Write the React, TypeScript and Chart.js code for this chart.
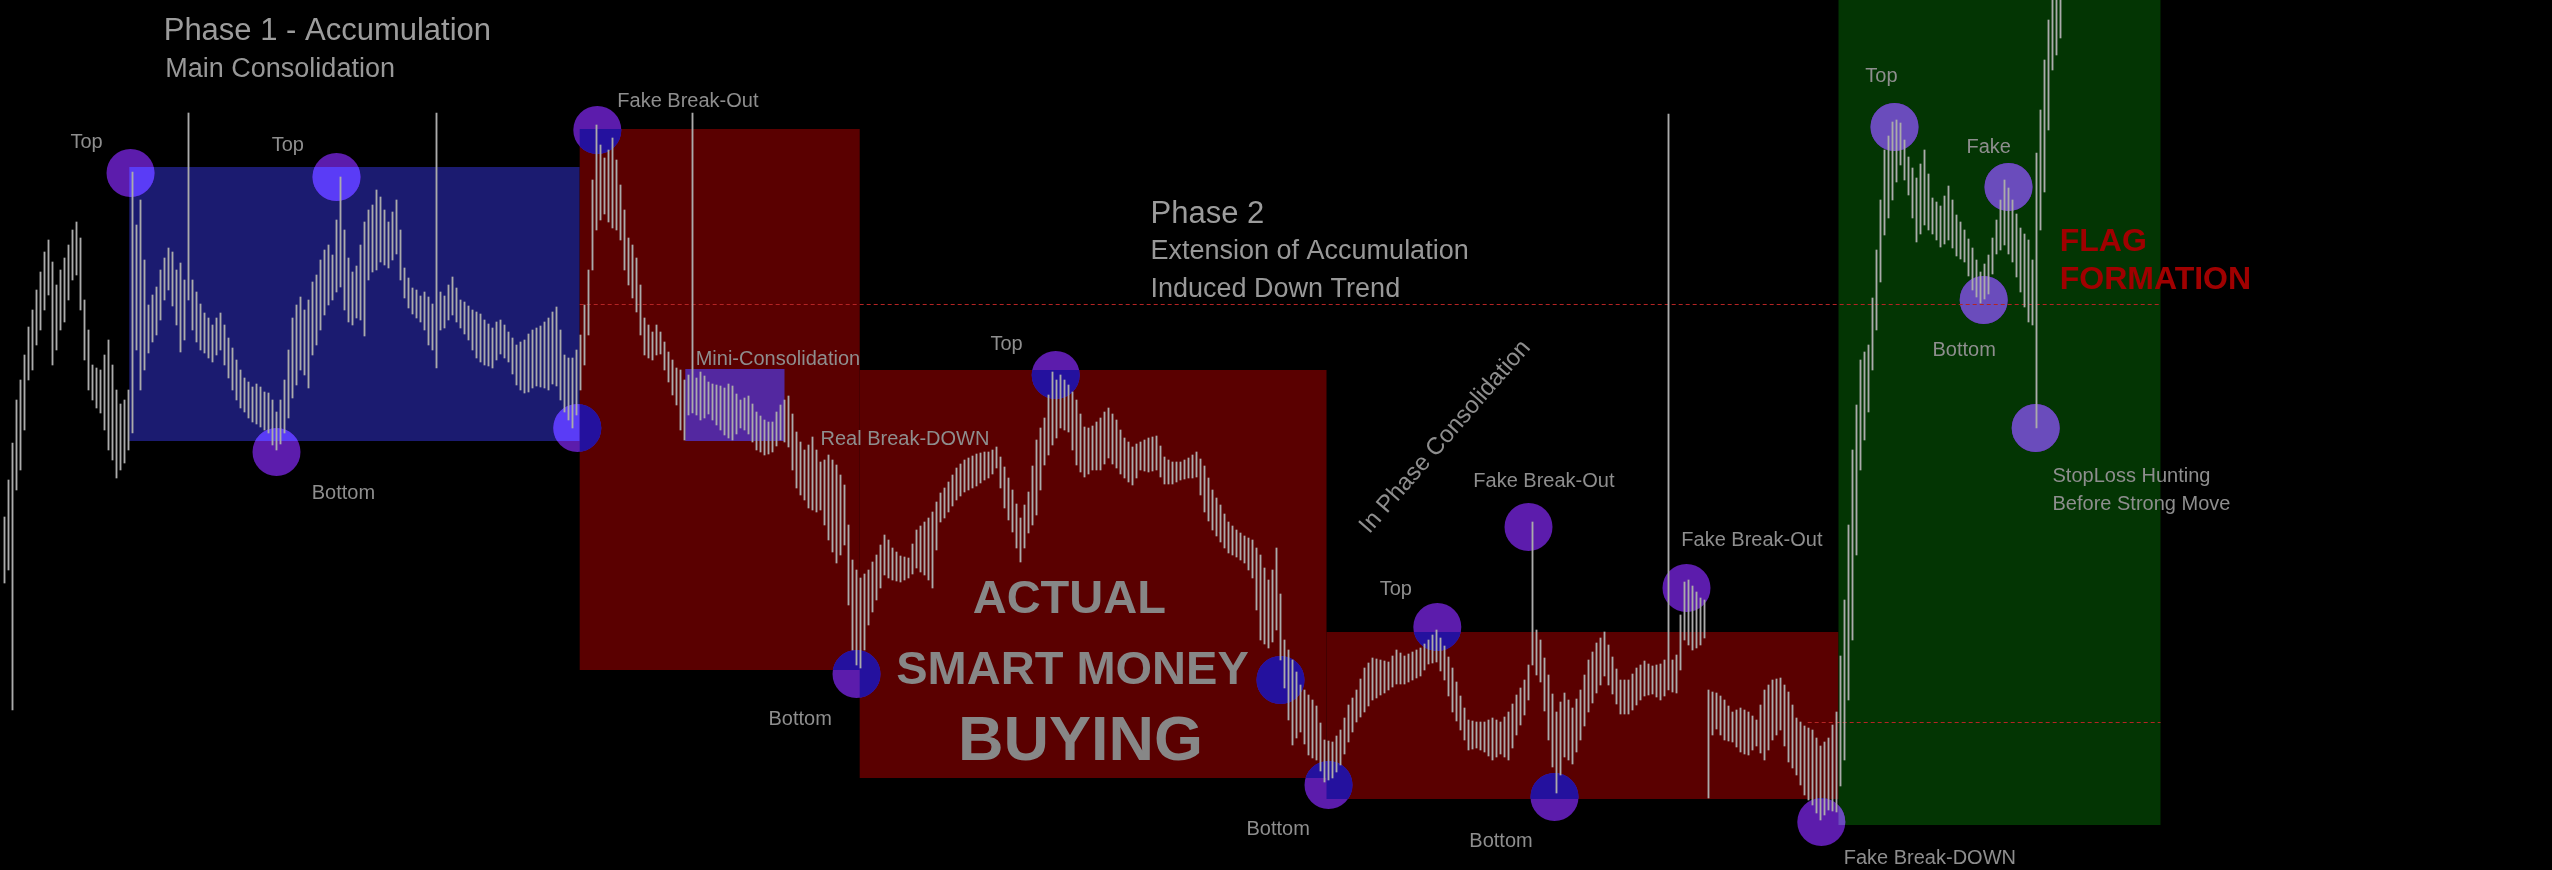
import React, { useEffect, useRef } from "react";
import { Chart, registerables } from "chart.js";

Chart.register(...registerables);

// ---- price bars (one bar per period), high / low in price points ----
const BAR_HIGH = [
  353, 390, 427, 470, 490, 515, 543, 560, 580, 598, 618, 630, 608, 585, 600, 612,
  625, 640, 648, 632, 570, 540, 505, 502, 500, 515, 530, 505, 480, 466, 470, 480,
  698, 645, 670, 610, 565, 575, 583, 600, 612, 622, 618, 600, 607, 590, 757, 590,
  578, 566, 557, 552, 545, 552, 557, 545, 532, 522, 510, 500, 492, 488, 483, 486,
  483, 478, 477, 470, 458, 470, 490, 520, 552, 565, 573, 560, 570, 588, 595, 610,
  620, 625, 615, 650, 693, 640, 612, 598, 604, 625, 648, 660, 665, 680, 673, 660,
  648, 658, 670, 640, 602, 592, 582, 580, 574, 578, 573, 566, 757, 578, 574, 585,
  593, 582, 570, 568, 564, 560, 558, 556, 550, 546, 542, 548, 550, 545, 538, 532,
  525, 528, 530, 536, 540, 542, 544, 548, 552, 558, 563, 540, 515, 512, 512, 520,
  535, 565, 600, 690, 745, 725, 712, 720, 732, 710, 685, 660, 632, 625, 612, 585,
  552, 545, 538, 545, 538, 528, 518, 510, 502, 500, 490, 495, 757, 492, 498, 494,
  488, 486, 485, 484, 482, 486, 484, 476, 470, 472, 474, 466, 458, 454, 450, 448,
  448, 458, 465, 470, 474, 456, 438, 428, 420, 425, 433, 420, 408, 410, 415, 410,
  405, 395, 385, 345, 310, 300, 292, 296, 300, 308, 315, 325, 335, 330, 322, 318,
  314, 313, 312, 326, 340, 344, 348, 352, 358, 368, 377, 382, 388, 395, 402, 406,
  410, 412, 414, 416, 417, 418, 418, 420, 423, 413, 403, 392, 380, 366, 352, 365,
  378, 404, 430, 442, 452, 475, 498, 490, 495, 490, 485, 478, 470, 456, 443, 442,
  444, 448, 452, 458, 462, 456, 450, 440, 432, 428, 423, 426, 428, 430, 432, 433,
  434, 424, 413, 410, 408, 408, 408, 410, 412, 415, 418, 411, 404, 392, 380, 372,
  365, 356, 348, 344, 340, 337, 334, 332, 330, 322, 315, 302, 290, 300, 322, 276,
  230, 220, 210, 198, 185, 180, 175, 170, 164, 147, 130, 129, 128, 134, 140, 152,
  165, 172, 180, 191, 202, 207, 212, 211, 210, 209, 208, 214, 220, 217, 214, 216,
  218, 220, 222, 226, 230, 235, 240, 232, 224, 213, 202, 188, 174, 162, 150, 149,
  148, 148, 148, 150, 152, 150, 148, 153, 158, 166, 175, 182, 190, 205, 348, 240,
  230, 212, 195, 176, 158, 168, 177, 170, 162, 171, 180, 195, 210, 218, 227, 232,
  238, 225, 213, 201, 190, 190, 190, 196, 202, 205, 209, 206, 204, 205, 206, 210,
  756, 210, 215, 255, 288, 290, 284, 278, 272, 270, 180, 178, 177, 174, 170, 164,
  158, 160, 162, 160, 158, 154, 150, 165, 180, 185, 190, 191, 192, 185, 178, 165,
  152, 148, 144, 142, 140, 132, 124, 128, 132, 145, 158, 214, 270, 345, 420, 465,
  510, 518, 525, 572, 620, 670, 720, 734, 748, 750, 747, 730, 713, 702, 692, 706,
  720, 696, 672, 668, 664, 674, 684, 670, 655, 648, 640, 631, 622, 610, 598, 606,
  615, 632, 650, 670, 690, 682, 670, 656, 642, 636, 630, 610, 717, 760, 810, 850,
  890, 910, 930,
];

const BAR_LOW = [
  287, 300, 160, 380, 400, 440, 490, 500, 525, 540, 560, 575, 505, 520, 540, 548,
  570, 590, 595, 560, 510, 480, 470, 462, 457, 440, 420, 410, 392, 400, 407, 420,
  437, 520, 480, 500, 517, 528, 535, 550, 570, 580, 564, 545, 518, 530, 570, 540,
  528, 520, 517, 512, 508, 515, 520, 505, 492, 480, 470, 462, 458, 452, 448, 446,
  443, 440, 437, 425, 420, 426, 437, 452, 472, 485, 500, 495, 482, 515, 525, 540,
  555, 565, 570, 578, 583, 560, 548, 545, 552, 550, 534, 590, 598, 600, 608, 605,
  602, 610, 616, 590, 572, 562, 556, 552, 548, 540, 525, 520, 502, 540, 542, 550,
  555, 548, 542, 536, 530, 520, 512, 508, 505, 504, 502, 510, 516, 512, 508, 496,
  485, 480, 477, 478, 482, 484, 483, 482, 480, 486, 484, 470, 458, 450, 442, 455,
  480, 505, 535, 600, 640, 650, 656, 648, 642, 640, 630, 600, 585, 572, 558, 535,
  515, 512, 510, 515, 516, 500, 488, 475, 465, 440, 430, 455, 457, 455, 450, 452,
  456, 450, 445, 440, 435, 432, 430, 436, 442, 440, 436, 428, 420, 418, 415, 416,
  418, 424, 430, 428, 423, 400, 382, 375, 370, 362, 360, 358, 360, 345, 330, 318,
  307, 315, 325, 265, 220, 205, 202, 220, 245, 258, 270, 282, 295, 292, 290, 289,
  288, 290, 292, 296, 302, 298, 295, 290, 282, 320, 348, 352, 358, 364, 370, 374,
  378, 380, 382, 384, 387, 390, 392, 396, 402, 382, 362, 350, 338, 322, 308, 322,
  337, 345, 355, 380, 405, 415, 425, 432, 442, 440, 438, 420, 405, 398, 393, 396,
  400, 400, 400, 406, 412, 406, 402, 396, 392, 388, 385, 392, 400, 399, 398, 399,
  400, 393, 386, 386, 386, 388, 390, 391, 392, 392, 393, 375, 358, 349, 340, 334,
  328, 322, 317, 315, 313, 310, 307, 300, 292, 260, 230, 226, 222, 228, 240, 210,
  182, 150, 125, 132, 138, 126, 115, 112, 110, 99, 88, 90, 92, 98, 105, 116,
  128, 138, 148, 153, 158, 164, 170, 172, 175, 177, 180, 183, 186, 186, 186, 188,
  190, 192, 194, 200, 206, 207, 208, 199, 190, 174, 158, 149, 140, 130, 120, 121,
  122, 120, 118, 114, 110, 113, 116, 113, 110, 122, 135, 145, 155, 170, 205, 195,
  188, 159, 130, 103, 77, 95, 113, 110, 106, 118, 130, 144, 158, 167, 177, 185,
  194, 185, 176, 166, 156, 156, 156, 160, 165, 170, 174, 175, 176, 173, 170, 174,
  180, 178, 177, 200, 230, 225, 220, 222, 225, 232, 72, 135, 141, 135, 130, 129,
  128, 123, 118, 116, 115, 120, 124, 117, 110, 120, 130, 135, 140, 124, 108, 102,
  95, 85, 75, 70, 65, 57, 50, 55, 60, 59, 58, 84, 110, 170, 230, 315,
  400, 430, 458, 500, 540, 588, 635, 652, 670, 688, 705, 690, 675, 652, 628, 636,
  645, 640, 636, 630, 623, 626, 630, 622, 614, 611, 608, 594, 580, 573, 567, 571,
  576, 596, 616, 620, 625, 616, 608, 593, 578, 563, 548, 545, 442, 640, 678, 740,
  800, 815, 832,
];

// ---- zones: period range and price range ----
const ZONE_NAME = ["Main Consolidation", "Phase 2 A", "Phase 2 B", "Phase 2 C", "Flag", "Mini-Consolidation"];
const ZONE_START = [31.2, 143.8, 213.8, 330.5, 458.5, 170.2];
const ZONE_END = [143.8, 213.8, 330.5, 458.5, 539, 195];
const ZONE_TOP = [703, 741, 500, 238, 900, 501];
const ZONE_BOTTOM = [429, 200, 92, 71, 45, 429];

// ---- pivots (circles) ----
const PIVOT_BAR = [31.5, 83, 68, 143.2, 148.2, 213, 262.8, 319, 331, 358.2, 381, 387.5, 420.5, 454.2, 472.5, 501, 494.8, 507.8];
const PIVOT_PRICE = [697, 693, 418, 442, 740, 196, 495, 190, 85, 243, 343, 73, 282, 48, 743, 683, 570, 442];

// ---- dashed levels ----
const LEVEL_PRICE = [566, 148];
const LEVEL_START = [143.8, 450.8];
const LEVEL_END = [539, 539];

// ---- notes ----
const NOTE_TEXT = [
  "Phase 1 - Accumulation", "Main Consolidation", "Top", "Top", "Bottom", "Fake Break-Out",
  "Mini-Consolidation", "Real Break-DOWN", "Top", "Bottom", "Phase 2", "Extension of Accumulation",
  "Induced Down Trend", "ACTUAL", "SMART MONEY", "BUYING", "In Phase Consolidation", "Top",
  "Fake Break-Out", "Fake Break-Out", "Bottom", "Bottom", "Fake Break-DOWN", "Top", "Fake",
  "Bottom", "FLAG", "FORMATION", "StopLoss Hunting", "Before Strong Move",
];
const NOTE_BAR = [
  39.8, 40.2, 16.5, 66.8, 76.8, 153.2,
  172.8, 204, 246.5, 191, 286.5, 286.5,
  286.5, 266.2, 267, 269, 360.2, 343.8,
  367.2, 419.2, 310.5, 366.2, 459.8, 465.2, 490.5,
  482, 513.8, 513.8, 512, 512,
];
const NOTE_PRICE = [
  830, 793, 722, 719, 371, 763,
  505, 425, 520, 145, 647, 611,
  573, 257, 186, 110, 433, 275,
  383, 324, 35, 23, 6, 788, 717,
  514, 619, 581, 388, 360,
];
const NOTE_KIND = [
  "title", "sub", "label", "label", "label", "label",
  "label", "label", "label", "label", "title", "sub",
  "sub", "headline", "headline", "headlineXL", "slanted", "label",
  "label", "label", "label", "label", "label", "label", "label",
  "label", "flag", "flag", "label", "label",
];

// ---- styles ----
const FONT = '"Liberation Sans", Arial, "DejaVu Sans", sans-serif';
const ZONE_FILL = ["#1b1b70", "#5a0000", "#5a0000", "#5a0000", "#033503", "#5328a0"];
const PIVOT_TINT = ["#5a3cf6", "#24119e", "#24119e", "#24119e", "#6a4cbc", null];
const PIVOT_BASE = "#5c1cac";
const NOTE_STYLE: Record<string, { font: string; color: string; align: CanvasTextAlign; rot?: number }> = {
  title: { font: `31px ${FONT}`, color: "#9c9c9c", align: "left" },
  sub: { font: `27px ${FONT}`, color: "#989898", align: "left" },
  label: { font: `20px ${FONT}`, color: "#8e8e8e", align: "left" },
  headline: { font: `bold 47px ${FONT}`, color: "#878787", align: "center" },
  headlineXL: { font: `bold 63px ${FONT}`, color: "#878787", align: "center" },
  slanted: { font: `24px ${FONT}`, color: "#8e8e8e", align: "center", rot: -49 },
  flag: { font: `bold 32px ${FONT}`, color: "#a00000", align: "left" },
};

const overlayPlugin = {
  id: "overlay",
  beforeDraw(chart: any) {
    const { ctx, width, height } = chart;
    ctx.save();
    ctx.fillStyle = "#000";
    ctx.fillRect(0, 0, width, height);
    ctx.restore();
  },
  beforeDatasetsDraw(chart: any) {
    const { ctx } = chart;
    const xs = chart.scales.x;
    const ys = chart.scales.y;
    const rect = (k: number): [number, number, number, number] => {
      const x0 = xs.getPixelForValue(ZONE_START[k]);
      const x1 = xs.getPixelForValue(ZONE_END[k]);
      const y0 = ys.getPixelForValue(ZONE_TOP[k]);
      const y1 = ys.getPixelForValue(ZONE_BOTTOM[k]);
      return [x0, y0, x1 - x0, y1 - y0];
    };
    ctx.save();
    ZONE_NAME.forEach((_, k) => {
      ctx.fillStyle = ZONE_FILL[k];
      ctx.fillRect(...rect(k));
    });
    PIVOT_BAR.forEach((b, k) => {
      const cx = xs.getPixelForValue(b);
      const cy = ys.getPixelForValue(PIVOT_PRICE[k]);
      ctx.save();
      ctx.beginPath();
      ctx.arc(cx, cy, 24, 0, Math.PI * 2);
      ctx.fillStyle = PIVOT_BASE;
      ctx.fill();
      ctx.clip();
      ZONE_NAME.forEach((_, z) => {
        const t = PIVOT_TINT[z];
        if (!t) return;
        ctx.fillStyle = t;
        ctx.fillRect(...rect(z));
      });
      ctx.restore();
    });
    ctx.strokeStyle = "#b42424";
    ctx.lineWidth = 1;
    ctx.setLineDash([4, 3]);
    LEVEL_PRICE.forEach((p, k) => {
      const y = Math.round(ys.getPixelForValue(p)) + 0.5;
      ctx.beginPath();
      ctx.moveTo(xs.getPixelForValue(LEVEL_START[k]), y);
      ctx.lineTo(xs.getPixelForValue(LEVEL_END[k]), y);
      ctx.stroke();
    });
    ctx.restore();
  },
  afterDatasetsDraw(chart: any) {
    const { ctx } = chart;
    const xs = chart.scales.x;
    const ys = chart.scales.y;
    NOTE_TEXT.forEach((t, k) => {
      const st = NOTE_STYLE[NOTE_KIND[k]];
      const x = xs.getPixelForValue(NOTE_BAR[k]);
      const y = ys.getPixelForValue(NOTE_PRICE[k]);
      ctx.save();
      ctx.font = st.font;
      ctx.fillStyle = st.color;
      ctx.textAlign = st.align;
      if (st.rot !== undefined) {
        ctx.translate(x, y);
        ctx.rotate((st.rot * Math.PI) / 180);
        ctx.textBaseline = "middle";
        ctx.fillText(t, 0, 0);
      } else {
        ctx.textBaseline = "alphabetic";
        ctx.fillText(t, x, y);
      }
      ctx.restore();
    });
  },
};

export default function App() {
  const ref = useRef<HTMLCanvasElement>(null);
  useEffect(() => {
    document.body.style.margin = "0";
    document.body.style.background = "#000";
    const chart = new Chart(ref.current as HTMLCanvasElement, {
      type: "bar",
      data: {
        datasets: [
          {
            data: BAR_HIGH.map((h, i) => ({ x: i, y: [BAR_LOW[i], h] })) as any,
            backgroundColor: "#ababab",
            borderWidth: 0,
            barThickness: 1.2,
          },
        ],
      },
      options: {
        responsive: false,
        animation: false,
        devicePixelRatio: 1,
        events: [],
        layout: { padding: 0 },
        plugins: { legend: { display: false }, tooltip: { enabled: false } },
        scales: {
          x: { type: "linear", min: -1.125, max: 636.875, display: false, offset: false, grid: { offset: false } },
          y: { type: "linear", min: 0, max: 870, display: false },
        },
      },
      plugins: [overlayPlugin],
    });
    return () => chart.destroy();
  }, []);
  return (
    <div style={{ position: "fixed", left: 0, top: 0, width: 2552, height: 870, background: "#000" }}>
      <canvas ref={ref} width={2552} height={870} style={{ display: "block", width: 2552, height: 870 }} />
    </div>
  );
}
